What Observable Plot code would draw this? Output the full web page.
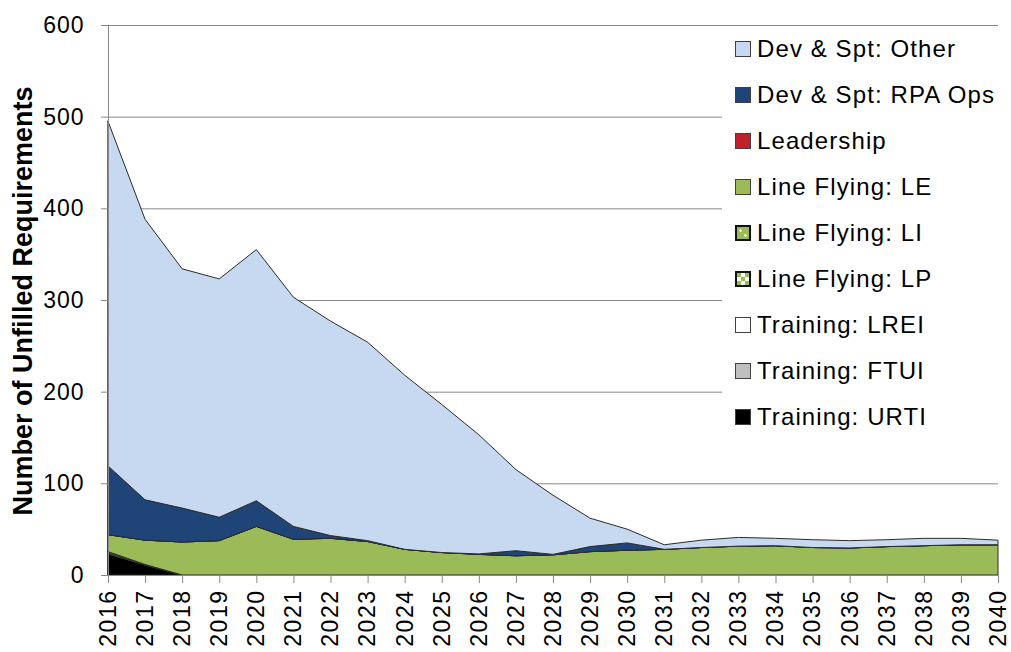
<!DOCTYPE html>
<html><head><meta charset="utf-8">
<script src="https://cdn.jsdelivr.net/npm/d3@7"></script>
<script src="https://cdn.jsdelivr.net/npm/@observablehq/plot@0.6"></script>
<style>
body{margin:0;background:#fff;}
#wrap{position:relative;width:1011px;height:652px;font-family:"Liberation Sans",Arial,sans-serif;color:#000;}
#wrap svg g[aria-label="y-axis tick label"] text{letter-spacing:1px;}
#wrap svg g[aria-label="x-axis tick label"] text{letter-spacing:1.5px;}
#ytitle{position:absolute;left:23px;top:301px;transform:translate(-50%,-50%) rotate(-90deg);font-weight:bold;font-size:27px;line-height:27px;white-space:nowrap;}
#legend{position:absolute;left:722px;top:28px;width:276px;height:435px;background:#fff;}
.row{position:absolute;left:0;height:30px;display:flex;align-items:center;font-size:24px;letter-spacing:1.1px;white-space:nowrap;}
.sw{width:14px;height:14px;border:1px solid #404040;margin-left:13px;margin-right:6px;box-sizing:content-box;}
</style></head><body><div id="wrap"></div>
<script>
const years = [2016,2017,2018,2019,2020,2021,2022,2023,2024,2025,2026,2027,2028,2029,2030,2031,2032,2033,2034,2035,2036,2037,2038,2039,2040];
const urti =       [23,11,0,0,0,0,0,0,0,0,0,0,0,0,0,0,0,0,0,0,0,0,0,0,0];
const ftui =       [1,0,0,0,0,0,0,0,0,0,0,0,0,0,0,0,0,0,0,0,0,0,0,0,0];
const lrei =       [1.5,0.5,0,0,0,0,0,0,0,0,0,0,0,0,0,0,0,0,0,0,0,0,0,0,0];
const lp =         [0,0,0,0,0,0,0,0,0,0,0,0,0,0,0,0,0,0,0,0,0,0,0,0,0];
const li =         [0,0,0,0,0,0,0,0,0,0,0,0,0,0,0,0,0,0,0,0,0,0,0,0,0];
const le =         [18.5,26.5,36,37.5,53,39,40,36.5,28,24.5,22.5,21,22,25.5,27,28,30,31.5,32,30,29.5,31,32,33,33];
const leadership = [0,0,0,0,0,0,0,0,0,0,0,0,0,0,0,0,0,0,0,0,0,0,0,0,0];
const rpa =        [75,44,37,25.5,28,14,3,1,0,0,0.5,5.5,0.5,5.5,8,0,0,0,0,0,0,0,0,0,0];
const other =      [376,306,261,260,274,250,234,216.5,190,161.5,130,88.5,64.5,31,15,5,8,9.5,8,8.5,8,7.5,8,7,5];

// bottom to top stacking order
const seriesNames = ["Training: URTI","Training: FTUI","Training: LREI","Line Flying: LP","Line Flying: LI","Line Flying: LE","Leadership","Dev & Spt: RPA Ops","Dev & Spt: Other"];
const seriesColors = ["#000000","#bfbfbf","#ffffff","#9bbb59","#9bbb59","#9bbb59","#c0202a","#1f4478","#c6d9f0"];
const seriesValues = [urti, ftui, lrei, lp, li, le, leadership, rpa, other];
const yTicks = [0,100,200,300,400,500,600];
const yTitle = "Number of Unfilled Requirements";

const data = seriesNames.flatMap((name,i)=>years.map((yr,j)=>({year:yr, series:name, value:seriesValues[i][j]})));

const plot = Plot.plot({
  width:1011, height:652,
  marginLeft:108, marginRight:13, marginTop:25, marginBottom:77,
  style:{fontFamily:'"Liberation Sans",Arial,sans-serif', fontSize:"23px", color:"#000", background:"#fff", overflow:"visible"},
  x:{domain:[2016,2040]},
  y:{domain:[0,600]},
  color:{domain:seriesNames, range:seriesColors},
  marks:[
    Plot.gridY(yTicks.filter(d=>d>0), {stroke:"#888", strokeOpacity:1, strokeWidth:1}),
    Plot.areaY(data, {x:"year", y:"value", z:"series", fill:"series", stroke:"#2b2b2b", strokeWidth:1, order:seriesNames}),
    Plot.ruleX([2016], {stroke:"#888"}),
    Plot.ruleY([0], {stroke:"#888"}),
    Plot.axisY({ticks:yTicks, tickSize:7, tickPadding:17, label:null, stroke:"#888", fill:"#000"}),
    Plot.axisX({ticks:years, tickFormat:d=>String(d), tickRotate:-90, tickSize:8, tickPadding:6, label:null, stroke:"#888", fill:"#000"})
  ]
});

const wrap = document.getElementById("wrap");
wrap.appendChild(plot);

const t = document.createElement("div");
t.id = "ytitle"; t.textContent = yTitle;
wrap.appendChild(t);

const legend = document.createElement("div");
legend.id = "legend";
const legendOrder = seriesNames.slice().reverse();
legendOrder.forEach((name,k)=>{
  const idx = seriesNames.indexOf(name);
  const row = document.createElement("div");
  row.className = "row";
  row.style.top = (6 + k*46) + "px";
  const sw = document.createElement("div");
  sw.className = "sw";
  sw.style.background = seriesColors[idx];
  if (name === "Line Flying: LI") { sw.style.border = "2px solid #111"; sw.style.width="12px"; sw.style.height="12px"; sw.style.background = "radial-gradient(circle at 30% 30%, #fff 1px, transparent 1.5px), radial-gradient(circle at 70% 70%, #fff 1px, transparent 1.5px), #9bbb59"; }
  if (name === "Line Flying: LP") { sw.style.border = "2px solid #111"; sw.style.width="12px"; sw.style.height="12px"; sw.style.background = "conic-gradient(#fff 0 25%, #9bbb59 0 50%, #fff 0 75%, #9bbb59 0)"; sw.style.backgroundSize="8px 8px"; }
  const label = document.createElement("span");
  label.textContent = name;
  row.appendChild(sw); row.appendChild(label);
  legend.appendChild(row);
});
wrap.appendChild(legend);
</script>
</body></html>
